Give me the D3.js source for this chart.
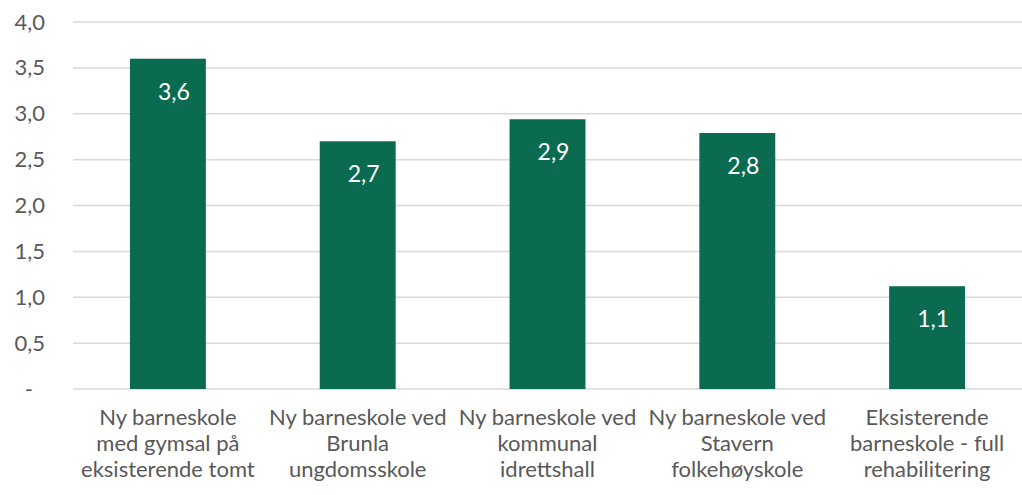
<!DOCTYPE html>
<html>
<head>
<meta charset="utf-8">
<script src="https://cdn.jsdelivr.net/npm/d3@7"></script>
<style>
   body { margin: 0; background: #fff; }
   text { font-family: Lato, "Open Sans", sans-serif; }
</style>
</head>
<body>
<svg id="canvas"></svg>
<script>
// Chart data
const categories = [
   ["Ny barneskole", "med gymsal på", "eksisterende tomt"],
   ["Ny barneskole ved", "Brunla", "ungdomsskole"],
   ["Ny barneskole ved", "kommunal", "idrettshall"],
   ["Ny barneskole ved", "Stavern", "folkehøyskole"],
   ["Eksisterende", "barneskole - full", "rehabilitering"]
];
const values = [3.6, 2.7, 2.94, 2.79, 1.12];
const yTicks = [0, 0.5, 1, 1.5, 2, 2.5, 3, 3.5, 4];

const svgWidth = 1022;
const svgHeight = 495;
const barColor = "#0b6b50";
const textColor = "#595959";
const gridColor = "#d9d9d9";

// Norwegian decimal comma, zero shown as "-"
const fmt = (d) => d3.format(".1f")(d).replace(".", ",");

const canvas = d3.select("#canvas")
                 .attr("width", svgWidth)
                 .attr("height", svgHeight);

// Scales
const xScale = d3.scaleBand()
                 .domain(d3.range(categories.length))
                 .range([73, 1022])
                 .paddingInner(0.6)
                 .paddingOuter(0.3);

const yScale = d3.scaleLinear()
                 .domain([0, 4])
                 .range([389, 22]);

// Gridlines
canvas.append("g")
      .selectAll("line")
      .data(yTicks)
      .enter()
      .append("line")
      .attr("x1", 73)
      .attr("x2", svgWidth)
      .attr("y1", (d) => yScale(d))
      .attr("y2", (d) => yScale(d))
      .attr("stroke", gridColor)
      .attr("stroke-width", 1.5);

// Y axis labels (axis drawn without domain line / ticks)
const yAxis = d3.axisLeft(yScale)
                .tickValues(yTicks)
                .tickSize(0)
                .tickPadding(0)
                .tickFormat((d) => d === 0 ? "-" : fmt(d));

const gY = canvas.append("g")
                 .attr("transform", "translate(45, 0)")
                 .call(yAxis);
gY.select(".domain").remove();
gY.selectAll("text")
  .attr("fill", textColor)
  .attr("font-size", 22)
  .style("font-family", "Lato, sans-serif")
  .attr("dx", (d) => d === 0 ? -12 : 0);

// Bars
canvas.append("g")
      .selectAll("rect")
      .data(values)
      .enter()
      .append("rect")
      .attr("x", (d, i) => xScale(i))
      .attr("y", (d) => yScale(d))
      .attr("width", xScale.bandwidth())
      .attr("height", (d) => yScale(0) - yScale(d))
      .attr("fill", barColor);

// Value labels inside bar tops
canvas.append("g")
      .selectAll("text")
      .data(values)
      .enter()
      .append("text")
      .attr("x", (d, i) => xScale(i) + xScale.bandwidth() / 2 + 6)
      .attr("y", (d) => yScale(d) + 41)
      .attr("text-anchor", "middle")
      .attr("fill", "#fff")
      .attr("font-size", 23)
      .text((d) => fmt(d));

// Category labels, three lines each
const catGroups = canvas.append("g")
                        .selectAll("text")
                        .data(categories)
                        .enter()
                        .append("text")
                        .attr("text-anchor", "middle")
                        .attr("fill", textColor)
                        .attr("font-size", 22);

catGroups.selectAll("tspan")
         .data((d, i) => d.map((line) => ({ line: line, i: i })))
         .enter()
         .append("tspan")
         .attr("x", (d) => xScale(d.i) + xScale.bandwidth() / 2)
         .attr("y", (d, j) => 425 + j * 26)
         .text((d) => d.line);
</script>
</body>
</html>
